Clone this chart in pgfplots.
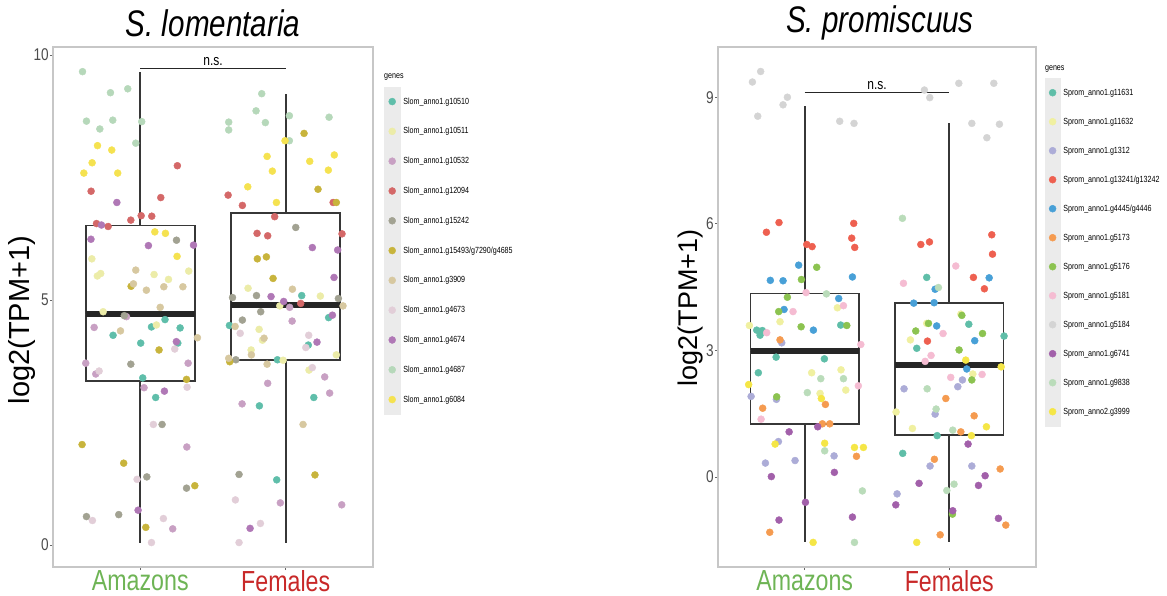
\documentclass[border=0pt]{standalone}
\usepackage{fontspec}
\setmainfont{Liberation Sans}[FakeStretch=0.8]
\newfontfamily\plainfont{Liberation Sans}
\usepackage{pgfplots}
\pgfplotsset{compat=1.18}
\usepgfplotslibrary{statistics}
% left palette
\definecolor{la}{RGB}{95,190,170}
\definecolor{lb}{RGB}{236,236,168}
\definecolor{lc}{RGB}{200,160,195}
\definecolor{ld}{RGB}{212,104,104}
\definecolor{le}{RGB}{162,162,146}
\definecolor{lf}{RGB}{200,180,60}
\definecolor{lg}{RGB}{215,200,160}
\definecolor{lh}{RGB}{226,206,216}
\definecolor{li}{RGB}{176,120,182}
\definecolor{lj}{RGB}{182,216,186}
\definecolor{lk}{RGB}{245,226,80}
% right palette
\definecolor{ra}{RGB}{95,190,168}
\definecolor{rb}{RGB}{240,240,160}
\definecolor{rc}{RGB}{172,172,215}
\definecolor{rd}{RGB}{238,96,80}
\definecolor{re}{RGB}{72,160,215}
\definecolor{rf}{RGB}{245,155,80}
\definecolor{rg}{RGB}{140,195,80}
\definecolor{rh}{RGB}{245,188,210}
\definecolor{ri}{RGB}{212,212,212}
\definecolor{rj}{RGB}{162,96,170}
\definecolor{rk}{RGB}{186,220,186}
\definecolor{rl}{RGB}{245,230,70}
\definecolor{keygrey}{RGB}{235,235,235}
\definecolor{amzgreen}{RGB}{110,180,85}
\definecolor{femred}{RGB}{200,40,40}
\definecolor{boxc}{RGB}{55,55,55}
\pgfplotsset{
  panel/.style={anchor=south west, scale only axis, xmin=0.4, xmax=2.6,
    xtick={1,2}, xticklabels={{\color{amzgreen}Amazons},{\color{femred}Females}},
    tick align=outside, major tick length=3pt, tick style={draw=black!60, line width=0.7pt},
    xtick pos=bottom, ytick pos=left,
    axis line style={draw=black!22, line width=1.3pt},
    xticklabel style={font=\fontsize{29}{32}\selectfont, inner sep=0pt},
    yticklabel style={font=\fontsize{17}{20}\selectfont, text=black!70, inner sep=1pt},
    /pgf/number format/assume math mode=true,
    ylabel={log2(TPM+1)},
    clip=false, legend cell align=left,
    legend style={anchor=north west, draw=none, fill=none, inner sep=0pt, outer sep=0pt,
      row sep=0pt, font=\fontsize{8.9}{10}\selectfont, nodes={inner sep=0pt},
      /tikz/every odd column/.style={column sep=3pt}}},
  pt/.style={only marks, mark=*, mark size=3.5pt, color=#1, mark options={draw=none, fill=#1}},
  bx/.style={forget plot, draw=boxc, line width=1.8pt, fill=white,
    boxplot/draw direction=y,
    boxplot/every median/.style={line width=5.5pt, draw=black!85}}
}
\begin{document}
\begin{tikzpicture}
\useasboundingbox (0pt,-596pt) rectangle (1167pt,0pt);
\node[font=\fontsize{37}{40}\selectfont\itshape] at (213pt,-23pt) {S. lomentaria};
\node[font=\fontsize{37}{40}\selectfont\itshape] at (880pt,-23pt) {S. promiscuus};
% ================= LEFT =================
\begin{axis}[panel, at={(53pt,-567pt)}, width=320pt, height=520pt,
  ymin=-0.449, ymax=10.163, ytick={0,5,10},
  every axis y label/.style={at={(axis description cs:-0.097,0.475)}, rotate=90, anchor=center, font=\plainfont\fontsize{29}{32}\selectfont},
  legend style={at={(1.0344,0.9237)}},
  legend image code/.code={\fill[keygrey] (-8pt,-14.7pt) rectangle (8pt,14.7pt); \draw plot coordinates {(0pt,0pt)};}]
\addplot[bx, boxplot prepared={lower whisker=0.05, lower quartile=3.35, median=4.71, upper quartile=6.52, upper whisker=9.65, draw position=1, box extend=0.75, whisker extend=0}] coordinates {};
\addplot[bx, boxplot prepared={lower whisker=0.05, lower quartile=3.78, median=4.90, upper quartile=6.78, upper whisker=9.20, draw position=2, box extend=0.75, whisker extend=0}] coordinates {};
\addplot[forget plot, black!85, line width=1.3pt] coordinates {(1,9.73) (2,9.73)};
\node[anchor=south, font=\fontsize{15}{17}\selectfont, inner sep=2pt] at (axis cs:1.5,9.73) {n.s.};
\addplot[pt=la] table[row sep=\\] {x y\\ 0.813 4.28\\ 1.003 4.12\\ 1.017 3.41\\ 1.077 4.45\\ 1.106 3.01\\ 1.170 4.60\\ 1.258 4.12\\ 1.274 4.43\\ 1.613 4.48\\ 1.819 2.84\\ 1.938 1.33\\ 1.943 3.78\\ 2.110 5.09\\ 2.155 4.08\\ 2.193 3.01\\ 2.295 4.64\\};
\addlegendentry{Slom\_anno1.g10510}
\addplot[pt=lb] table[row sep=\\] {x y\\ 0.667 5.84\\ 0.705 5.49\\ 0.728 5.54\\ 1.095 5.52\\ 1.194 5.42\\ 1.333 5.59\\ 1.741 5.24\\ 2.238 5.08\\ 0.745 4.76\\ 1.959 4.88\\ 1.111 4.49\\ 1.817 4.40\\ 1.840 4.18\\ 1.762 3.98\\ 1.982 3.77\\ 2.348 3.88\\ 2.160 3.57\\};
\addlegendentry{Slom\_anno1.g10511}
\addplot[pt=lc] table[row sep=\\] {x y\\ 0.683 4.44\\ 0.625 3.71\\ 0.694 3.49\\ 1.026 3.21\\ 1.329 3.71\\ 1.320 2.00\\ 1.223 0.33\\ 1.700 2.88\\ 1.876 3.30\\ 1.963 0.86\\ 2.027 4.85\\ 2.044 4.57\\ 2.268 3.43\\ 2.302 3.10\\ 2.385 0.82\\ 0.905 4.66\\};
\addlegendentry{Slom\_anno1.g10532}
\addplot[pt=ld] table[row sep=\\] {x y\\ 1.255 7.74\\ 0.662 7.22\\ 1.141 7.09\\ 0.699 6.56\\ 0.779 6.50\\ 0.935 6.63\\ 1.006 6.72\\ 1.079 6.71\\ 1.604 7.14\\ 1.702 6.93\\ 1.924 6.70\\ 2.326 6.99\\ 1.803 6.36\\ 1.876 6.31\\ 2.387 6.35\\ 2.103 4.93\\};
\addlegendentry{Slom\_anno1.g12094}
\addplot[pt=le] table[row sep=\\] {x y\\ 1.249 6.22\\ 2.069 6.48\\ 1.634 5.05\\ 1.799 5.09\\ 2.362 5.03\\ 1.828 4.76\\ 0.935 3.69\\ 1.150 2.46\\ 1.045 1.39\\ 1.318 1.16\\ 0.630 0.58\\ 0.852 0.62\\ 1.702 4.59\\ 1.657 3.78\\ 1.679 1.44\\ 0.890 4.68\\};
\addlegendentry{Slom\_anno1.g15242}
\addplot[pt=lf] table[row sep=\\] {x y\\ 2.126 8.40\\ 2.222 7.26\\ 2.348 6.99\\ 1.805 5.84\\ 1.867 5.88\\ 1.913 5.44\\ 0.937 5.28\\ 1.129 3.98\\ 1.318 3.38\\ 0.600 2.05\\ 0.886 1.67\\ 1.375 1.21\\ 1.038 0.36\\ 1.615 3.74\\ 2.201 1.43\\};
\addlegendentry{Slom\_anno1.g15493/g7290/g4685}
\addplot[pt=lg] table[row sep=\\] {x y\\ 0.969 5.61\\ 0.953 5.33\\ 1.042 5.20\\ 1.162 5.27\\ 1.293 5.27\\ 1.137 4.85\\ 2.046 5.22\\ 2.394 4.88\\ 0.864 4.37\\ 1.393 4.23\\ 1.652 4.46\\ 1.851 4.22\\ 1.608 3.81\\ 1.764 3.88\\ 1.872 3.69\\ 2.119 2.46\\};
\addlegendentry{Slom\_anno1.g3909}
\addplot[pt=lh] table[row sep=\\] {x y\\ 1.237 4.00\\ 0.717 3.55\\ 1.322 3.22\\ 1.090 2.46\\ 0.978 1.34\\ 0.671 0.50\\ 1.159 0.54\\ 1.077 0.05\\ 1.687 4.32\\ 2.158 4.28\\ 2.138 4.03\\ 2.183 3.62\\ 1.654 0.92\\ 1.826 0.44\\ 1.679 0.05\\};
\addlegendentry{Slom\_anno1.g4673}
\addplot[pt=li] table[row sep=\\] {x y\\ 0.839 6.99\\ 0.733 6.53\\ 0.661 6.24\\ 1.056 6.11\\ 1.366 6.12\\ 2.183 6.07\\ 2.357 6.02\\ 2.332 5.46\\ 1.899 5.07\\ 1.986 4.97\\ 2.321 4.69\\ 1.248 4.15\\ 1.166 3.14\\ 0.985 0.71\\ 2.215 4.14\\ 1.755 0.34\\};
\addlegendentry{Slom\_anno1.g4674}
\addplot[pt=lj] table[row sep=\\] {x y\\ 0.603 9.66\\ 0.795 9.23\\ 0.914 9.31\\ 0.630 8.65\\ 0.722 8.49\\ 0.811 8.67\\ 1.010 8.64\\ 0.969 8.20\\ 1.608 8.63\\ 1.608 8.47\\ 1.835 9.21\\ 1.796 8.86\\ 1.860 8.62\\ 2.025 8.76\\ 2.025 8.25\\ 2.298 8.73\\};
\addlegendentry{Slom\_anno1.g4687}
\addplot[pt=lk] table[row sep=\\] {x y\\ 0.706 8.15\\ 0.804 8.06\\ 0.669 7.80\\ 0.612 7.59\\ 0.845 7.59\\ 1.995 8.25\\ 1.872 7.93\\ 1.908 7.63\\ 1.739 7.31\\ 1.936 6.99\\ 2.165 7.83\\ 2.334 7.96\\ 2.293 7.65\\ 1.100 6.39\\ 1.173 6.36\\ 1.253 5.89\\};
\addlegendentry{Slom\_anno1.g6084}
\node[anchor=base west, font=\fontsize{8.9}{10}\selectfont, inner sep=0pt] at (axis description cs:1.0344,0.9237) [yshift=7.7pt] {genes};
\end{axis}
% ================= RIGHT =================
\begin{axis}[panel, at={(718pt,-567pt)}, width=318pt, height=520pt,
  ymin=-2.133, ymax=10.19, ytick={0,3,6,9},
  every axis y label/.style={at={(axis description cs:-0.088,0.498)}, rotate=90, anchor=center, font=\plainfont\fontsize{27}{30}\selectfont},
  legend style={at={(1.028,0.940)}},
  legend image code/.code={\fill[keygrey] (-7.5pt,-14.3pt) rectangle (7.5pt,14.3pt); \draw plot coordinates {(0pt,0pt)};}]
\addplot[bx, boxplot prepared={lower whisker=-1.55, lower quartile=1.25, median=2.99, upper quartile=4.35, upper whisker=8.80, draw position=1, box extend=0.75, whisker extend=0}] coordinates {};
\addplot[bx, boxplot prepared={lower whisker=-1.55, lower quartile=0.99, median=2.65, upper quartile=4.13, upper whisker=8.38, draw position=2, box extend=0.75, whisker extend=0}] coordinates {};
\addplot[forget plot, black!85, line width=1.3pt] coordinates {(1,9.12) (2,9.12)};
\node[anchor=south, font=\fontsize{15}{17}\selectfont, inner sep=2pt] at (axis cs:1.5,9.12) {n.s.};
\addplot[pt=ra] table[row sep=\\] {x y\\ 1.844 4.73\\ 0.668 3.48\\ 0.707 3.47\\ 0.691 3.36\\ 1.249 3.60\\ 0.802 2.84\\ 1.136 2.80\\ 0.679 2.47\\ 2.135 3.62\\ 2.379 3.34\\ 1.775 3.05\\ 1.916 0.98\\ 1.678 0.56\\};
\addlegendentry{Sprom\_anno1.g11631}
\addplot[pt=rb] table[row sep=\\] {x y\\ 1.226 4.01\\ 0.829 3.68\\ 0.617 3.59\\ 1.048 2.47\\ 1.251 2.54\\ 1.284 2.06\\ 1.106 1.98\\ 2.080 3.86\\ 1.844 3.64\\ 1.731 3.25\\ 2.163 2.44\\ 1.632 1.54\\ 1.745 1.15\\};
\addlegendentry{Sprom\_anno1.g11632}
\addplot[pt=rc] table[row sep=\\] {x y\\ 0.841 3.18\\ 0.629 1.91\\ 0.804 1.84\\ 0.818 0.84\\ 1.203 0.50\\ 0.728 0.33\\ 0.933 0.39\\ 2.059 2.14\\ 2.091 2.30\\ 1.687 2.09\\ 1.902 1.49\\ 1.867 0.26\\ 2.156 0.26\\ 1.639 -0.40\\};
\addlegendentry{Sprom\_anno1.g1312}
\addplot[pt=rd] table[row sep=\\] {x y\\ 0.735 5.80\\ 0.822 6.03\\ 1.014 5.51\\ 1.051 5.46\\ 1.339 6.01\\ 1.325 5.66\\ 1.346 5.44\\ 1.803 5.51\\ 1.863 5.57\\ 2.294 5.74\\ 2.299 5.28\\ 2.167 4.73\\ 2.243 4.46\\ 1.849 3.22\\};
\addlegendentry{Sprom\_anno1.g13241/g13242}
\addplot[pt=re] table[row sep=\\] {x y\\ 0.958 5.02\\ 0.762 4.66\\ 0.850 4.65\\ 1.330 4.74\\ 1.235 4.23\\ 1.902 4.45\\ 1.754 4.12\\ 1.895 4.13\\ 2.276 4.72\\ 0.857 3.97\\ 1.060 3.48\\ 1.913 3.58\\ 2.176 3.23\\ 2.121 2.56\\};
\addlegendentry{Sprom\_anno1.g4445/g4446}
\addplot[pt=rf] table[row sep=\\] {x y\\ 0.829 3.25\\ 1.143 1.72\\ 0.709 1.63\\ 1.122 1.26\\ 1.173 1.26\\ 1.358 0.49\\ 0.758 -1.31\\ 1.976 1.86\\ 2.172 1.45\\ 2.080 1.07\\ 1.897 0.42\\ 2.352 0.19\\ 2.391 -1.14\\ 1.937 -1.37\\};
\addlegendentry{Sprom\_anno1.g5173}
\addplot[pt=rg] table[row sep=\\] {x y\\ 1.083 4.97\\ 0.977 4.68\\ 0.880 4.26\\ 0.820 3.92\\ 2.087 3.83\\ 0.975 3.56\\ 1.291 3.59\\ 0.806 1.90\\ 1.856 3.64\\ 2.230 3.40\\ 1.768 3.46\\ 2.068 3.01\\ 2.156 2.30\\ 2.022 -0.88\\};
\addlegendentry{Sprom\_anno1.g5176}
\addplot[pt=rh] table[row sep=\\] {x y\\ 1.009 4.37\\ 1.683 4.59\\ 2.045 5.00\\ 0.919 3.92\\ 1.268 4.06\\ 0.737 3.42\\ 1.388 3.14\\ 1.371 2.16\\ 0.698 1.37\\ 1.957 3.40\\ 1.874 2.88\\ 1.833 2.74\\ 2.010 2.36\\ 2.227 2.43\\};
\addlegendentry{Sprom\_anno1.g5181}
\addplot[pt=ri] table[row sep=\\] {x y\\ 0.638 9.36\\ 0.695 9.61\\ 0.675 8.55\\ 0.850 8.82\\ 0.880 9.00\\ 1.242 8.43\\ 1.341 8.38\\ 1.828 9.17\\ 1.865 8.99\\ 2.066 9.33\\ 2.308 9.33\\ 2.156 8.38\\ 2.347 8.36\\ 2.260 8.04\\};
\addlegendentry{Sprom\_anno1.g5184}
\addplot[pt=rj] table[row sep=\\] {x y\\ 0.892 1.07\\ 1.090 1.19\\ 1.205 0.11\\ 0.769 0.01\\ 1.005 -0.60\\ 0.822 -1.02\\ 1.330 -0.95\\ 2.130 0.78\\ 2.248 0.03\\ 2.202 -0.20\\ 1.791 -0.15\\ 1.630 -0.66\\ 2.024 -0.80\\ 2.340 -0.98\\};
\addlegendentry{Sprom\_anno1.g6741}
\addplot[pt=rk] table[row sep=\\] {x y\\ 1.676 6.13\\ 1.150 4.34\\ 1.111 2.33\\ 1.268 2.33\\ 1.018 2.00\\ 1.138 0.62\\ 1.399 -0.33\\ 1.344 -1.55\\ 1.847 2.09\\ 1.909 1.61\\ 2.024 1.11\\ 1.983 -0.32\\ 2.033 -0.17\\ 1.925 4.49\\};
\addlegendentry{Sprom\_anno1.g9838}
\addplot[pt=rl] table[row sep=\\] {x y\\ 0.612 2.19\\ 1.115 1.86\\ 0.795 0.78\\ 1.138 0.80\\ 1.344 0.70\\ 1.406 0.70\\ 1.058 -1.55\\ 2.114 2.77\\ 2.359 2.61\\ 2.153 0.98\\ 2.257 1.19\\ 1.775 -1.55\\};
\addlegendentry{Sprom\_anno2.g3999}
\node[anchor=base west, font=\fontsize{8.9}{10}\selectfont, inner sep=0pt] at (axis description cs:1.028,0.940) [yshift=8pt] {genes};
\end{axis}
\end{tikzpicture}
\end{document}
